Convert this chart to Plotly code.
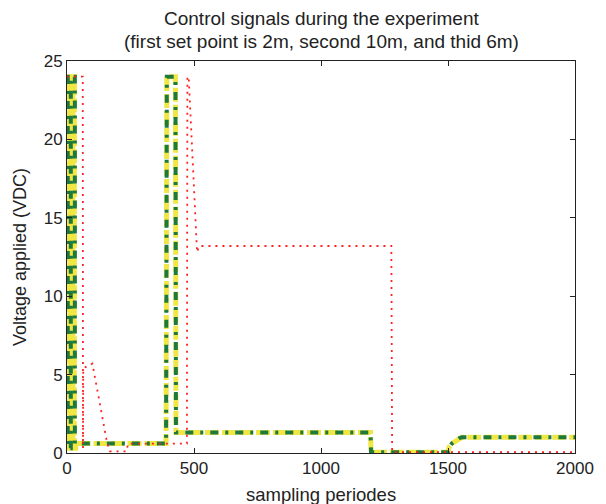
import plotly.graph_objects as go

# ---- data ----
# control signal 1 (yellow dashed)
sig_x = [0, 0, 5, 5, 11, 11, 17, 17, 23, 23, 29, 29, 34, 34, 390, 393, 427, 429,
         1195, 1197, 1500, 1505, 1515, 1545, 1555, 2000]
sig_y = [0.3, 24, 24, 0.3, 0.3, 24, 24, 0.3, 0.3, 24, 24, 0.3, 0.3, 0.6, 0.6, 24, 24, 1.3,
         1.3, 0.05, 0.05, 0.4, 0.6, 0.95, 1.0, 1.0]
# control signal 2 (green dash-dot)
green_x = [0, 3, 3, 15, 15, 31, 31, 390, 393, 427, 429,
           1195, 1197, 1500, 1505, 1515, 1545, 1555, 2000]
green_y = [24, 24, 0.3, 0.3, 24, 24, 0.6, 0.6, 24, 24, 1.3,
           1.3, 0.05, 0.05, 0.4, 0.6, 0.95, 1.0, 1.0]
# control signal 3 (red dotted)
red_x = [0, 62, 63, 64, 100, 155, 168, 235, 240, 472, 474, 479, 512, 520, 1277, 1280, 2000]
red_y = [24, 24, 0.3, 5.4, 5.7, 0.9, 0.1, 0.1, 0.6, 0.6, 24, 24, 12.8, 13.2, 13.2, 0.05, 0.05]

x_ticks = [0, 500, 1000, 1500, 2000]
y_ticks = [0, 5, 10, 15, 20, 25]

title_lines = ["Control signals during the experiment",
               "(first set point is 2m, second 10m, and thid 6m)"]
x_label = "sampling periodes"
y_label = "Voltage applied (VDC)"

FONT = "Liberation Sans, Arial, sans-serif"
TXT = "#222"

fig = go.Figure()
fig.add_trace(go.Scatter(x=sig_x, y=sig_y, mode="lines",
                         line=dict(color="#f0e644", width=5, dash="14px,3px"),
                         showlegend=False))
fig.add_trace(go.Scatter(x=green_x, y=green_y, mode="lines",
                         line=dict(color="#1e7a3c", width=4, dash="8px,7px,3px,7px"),
                         showlegend=False))
fig.add_trace(go.Scatter(x=red_x, y=red_y, mode="lines",
                         line=dict(color="#ff2020", width=1.8, dash="2px,5px"),
                         showlegend=False))

axis_common = dict(showline=True, linecolor=TXT, linewidth=1, mirror="ticks",
                   ticks="inside", ticklen=5, tickcolor=TXT, showgrid=False,
                   zeroline=False, tickfont=dict(family=FONT, size=17, color=TXT))

H = 392  # plot height in px
fig.update_layout(
    width=606, height=504,
    margin=dict(l=67, r=20, t=61, b=51),
    paper_bgcolor="white", plot_bgcolor="white",
    xaxis=dict(range=[0, 2000], tickvals=x_ticks, **axis_common),
    yaxis=dict(range=[0, 25], tickvals=y_ticks, **axis_common),
    annotations=[
        dict(text=title_lines[0], xref="paper", yref="paper", x=0.5, y=1 + (61 - 18) / H,
             xanchor="center", yanchor="middle", showarrow=False,
             font=dict(family=FONT, size=19, color=TXT)),
        dict(text=title_lines[1], xref="paper", yref="paper", x=0.5, y=1 + (61 - 41) / H,
             xanchor="center", yanchor="middle", showarrow=False,
             font=dict(family=FONT, size=19, color=TXT)),
        dict(text=x_label, xref="paper", yref="paper", x=0.5, y=-(494 - 453) / H,
             xanchor="center", yanchor="middle", showarrow=False,
             font=dict(family=FONT, size=18.5, color=TXT)),
        dict(text=y_label, xref="paper", yref="paper", x=-(67 - 19) / 519, y=0.5,
             xanchor="center", yanchor="middle", textangle=-90, showarrow=False,
             font=dict(family=FONT, size=18, color=TXT)),
    ],
)

fig.write_html("out.html")
